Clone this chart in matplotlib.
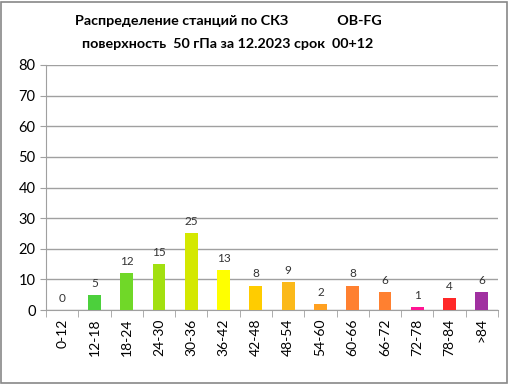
import matplotlib
matplotlib.use("Agg")
from matplotlib import pyplot as plt
from matplotlib.patches import Rectangle
import numpy as np

categories = ['0-12', '12-18', '18-24', '24-30', '30-36', '36-42', '42-48',
              '48-54', '54-60', '60-66', '66-72', '72-78', '78-84', '>84']
counts = [0, 5, 12, 15, 25, 13, 8, 9, 2, 8, 6, 1, 4, 6]
colors = ['#4cd03c', '#4cd03c', '#70d828', '#a2e010', '#d4e800', '#ffff00',
          '#ffcc00', '#fbb91a', '#ffa020', '#ff8030', '#ff8030', '#ff1493',
          '#ff2828', '#a030a0']

plt.rcParams['font.family'] = ['Lato', 'DejaVu Sans']

fig = plt.figure(figsize=(5.08, 3.84), dpi=100)
fig.patches.append(Rectangle((0.002, 0.002), 0.996, 0.994, transform=fig.transFigure,
                             fill=False, edgecolor='#888888', linewidth=1.2))
ax = fig.add_axes([46/508, 1 - 310/384, 452/508, 245/384])

x = np.arange(len(categories))
bars = ax.bar(x, counts, width=0.4, color=colors, zorder=3)
for xi, v in zip(x, counts):
    ax.text(xi, v + 2, str(v), ha='center', va='bottom', fontsize=8.5, color='#333333')

ax.set_xlim(-0.5, len(categories) - 0.5)
ax.set_ylim(0, 80)
ax.set_yticks(range(0, 81, 10))
ax.yaxis.grid(True, color='#a0a0a0', linewidth=1)
ax.set_axisbelow(True)
ax.set_xticks(x)
ax.set_xticklabels(categories, rotation=90, fontsize=10)
ax.set_xticks(np.arange(-0.5, len(categories), 1), minor=True)
ax.tick_params(axis='x', which='major', length=0, pad=6)
ax.tick_params(axis='x', which='minor', length=5, color='#a0a0a0')
ax.tick_params(axis='y', length=4, color='#a0a0a0', labelsize=10.5)
for s in ['top', 'right']:
    ax.spines[s].set_visible(False)
for s in ['left', 'bottom']:
    ax.spines[s].set_color('#a0a0a0')

fig.text(228/508, 1 - 21/384, 'Распределение станций по СКЗ              OB-FG',
         ha='center', va='center', fontsize=10.3, fontweight='bold')
fig.text(228/508, 1 - 44/384, 'поверхность  50 гПа за 12.2023 срок  00+12',
         ha='center', va='center', fontsize=10.3, fontweight='bold')

fig.savefig('out.png', dpi=100)
